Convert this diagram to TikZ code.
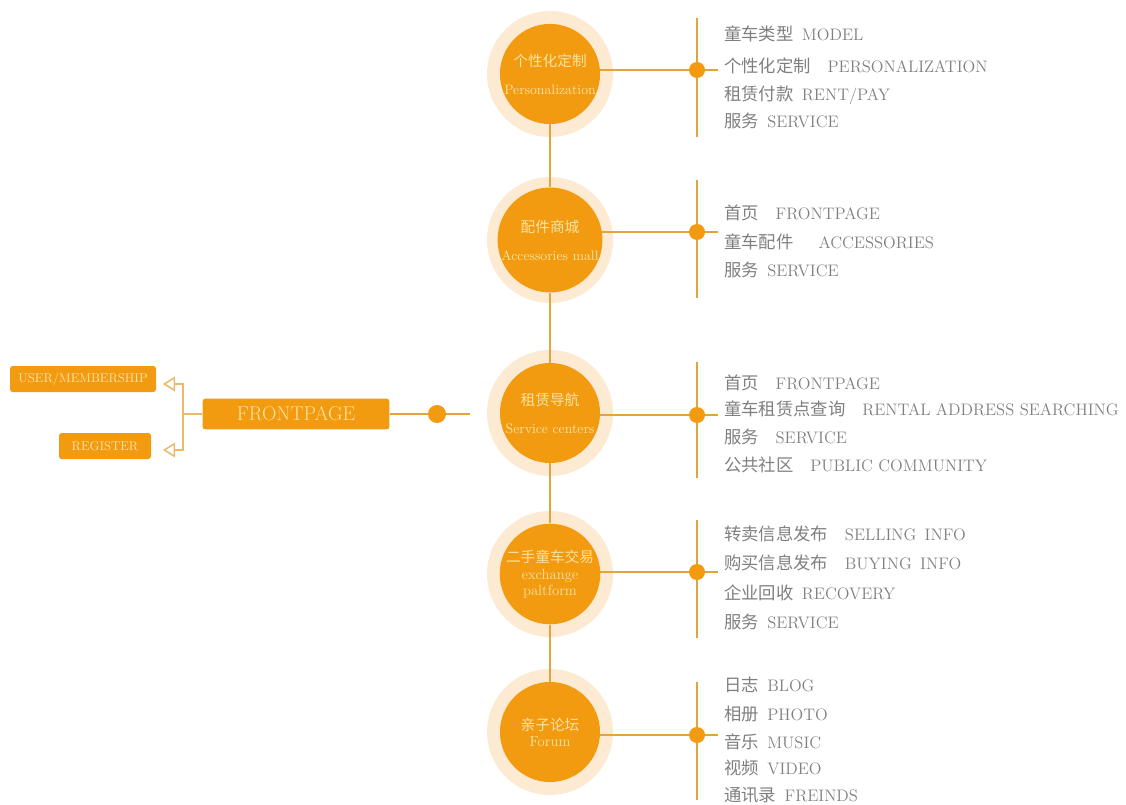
\documentclass[tikz,border=0pt]{standalone}
\usepackage{fontspec}
\newfontfamily\cjk{Noto Sans CJK SC}
\usepackage{tikz}
\usetikzlibrary{positioning, arrows.meta, backgrounds}

\definecolor{hubfill}{HTML}{F29A10}
\definecolor{halofill}{HTML}{FCEAD2}
\definecolor{wire}{HTML}{E2A43E}
\definecolor{hubtext}{HTML}{FCE3A2}
\definecolor{itemtext}{HTML}{7F7F7F}
\definecolor{forkline}{HTML}{EAB96C}

\newcommand\zh[1]{{\cjk\fontsize{13}{15}\selectfont #1}}
\newcommand\hz[1]{{\cjk\fontsize{11}{13}\selectfont #1}}

\begin{document}
\begin{tikzpicture}[
  x=0.75pt, y=-0.75pt,
  hub/.style={circle, fill=hubfill, minimum size=75pt, inner sep=0pt,
    align=center, text=hubtext, font=\fontsize{10.3}{12}\selectfont},
  knot/.style={circle, fill=hubfill, minimum size=12pt, inner sep=0pt},
  item/.style={anchor=west, inner sep=0pt, text=itemtext,
    font=\fontsize{12.5}{14}\selectfont},
  tab/.style={fill=hubfill, rounded corners=2pt, text=hubtext, inner sep=0pt},
  wireline/.style={draw=wire, line width=2.2pt},
  fork/.style={draw=forkline, line width=1.1pt},
  opentip/.style={-{Triangle[open, length=9pt, width=11pt]}},
]
\useasboundingbox (0,0) rectangle (1126,805);

% hubs on the spine
\node[hub] (pers)  at (550,74)  {\hz{个性化定制}\\[9pt]Personalization};
\node[hub] (acc)   at (550,240) {\hz{配件商城}\\[9pt]Accessories mall};
\node[hub] (nav)   at (550,413) {\hz{租赁导航}\\[9pt]Service centers};
\node[hub, font=\fontsize{11}{13}\selectfont] (trade) at (550,574)
  {\hz{二手童车交易}\\[0pt]exchange\\[-1pt]paltform};
\node[hub, font=\fontsize{11}{13}\selectfont] (forum) at (550,732)
  {\hz{亲子论坛}\\[-1pt]Forum};

% bars and knots on the right
\foreach \y/\top/\bot [count=\i] in {70/18/137, 232/180/298, 415/362/478,
                                     572/520/638, 735/682/800} {
  \coordinate (tip\i) at (718,\y);
  \coordinate (top\i) at (697,\top);
  \coordinate (bot\i) at (697,\bot);
  \node[knot] (knot\i) at (697,\y) {};
}

% items
\foreach \y/\t [count=\j] in {34/{\zh{童车类型}\enspace MODEL},
    66/{\zh{个性化定制}\quad PERSONALIZATION},
    95/{\zh{租赁付款}\enspace RENT/PAY},
    121/{\zh{服务}\enspace SERVICE}}
  \node[item] (persitem\j) at (724,\y) {\t};

\foreach \y/\t [count=\j] in {213/{\zh{首页}\quad FRONTPAGE},
    242/{\zh{童车配件}\quad\enspace ACCESSORIES},
    270/{\zh{服务}\enspace SERVICE}}
  \node[item] (accitem\j) at (724,\y) {\t};

\foreach \y/\t [count=\j] in {383/{\zh{首页}\quad FRONTPAGE},
    409/{\zh{童车租赁点查询}\quad RENTAL ADDRESS SEARCHING},
    437/{\zh{服务}\quad SERVICE},
    465/{\zh{公共社区}\quad PUBLIC COMMUNITY}}
  \node[item] (navitem\j) at (724,\y) {\t};

\foreach \y/\t [count=\j] in {534/{\zh{转卖信息发布}\quad SELLING\enspace INFO},
    563/{\zh{购买信息发布}\quad BUYING\enspace INFO},
    593/{\zh{企业回收}\enspace RECOVERY},
    622/{\zh{服务}\enspace SERVICE}}
  \node[item] (tradeitem\j) at (724,\y) {\t};

\foreach \y/\t [count=\j] in {685/{\zh{日志}\enspace BLOG},
    714/{\zh{相册}\enspace PHOTO},
    742/{\zh{音乐}\enspace MUSIC},
    768/{\zh{视频}\enspace VIDEO},
    795/{\zh{通讯录}\enspace FREINDS}}
  \node[item] (forumitem\j) at (724,\y) {\t};

% left side
\node[tab, minimum width=140pt, minimum height=23pt,
  font=\fontsize{15}{18}\selectfont] (front) at (296,414) {FRONTPAGE};
\node[tab, minimum width=109.5pt, minimum height=19.5pt,
  font=\fontsize{9.5}{11}\selectfont] (member) at (83,379) {USER/MEMBERSHIP};
\node[tab, minimum width=69pt, minimum height=19.5pt,
  font=\fontsize{9.5}{11}\selectfont] (register) at (105,446) {REGISTER};
\node[knot, minimum size=13.5pt] (frontknot) at (437,414) {};
\coordinate (navin) at (470,414);
\coordinate (fork) at (183,414);
\coordinate (membertip) at (163,384);
\coordinate (registertip) at (163,450);

\draw[fork, opentip] (front) -- (fork) |- (membertip);
\draw[fork, opentip] (fork) |- (registertip);

\begin{scope}[on background layer]
  \foreach \h in {pers, acc, nav, trade, forum}
    \fill[halofill] (\h.center) circle (47.25pt);
  \draw[wireline] (pers) -- (acc) -- (nav) -- (trade) -- (forum);
  \foreach \h [count=\i] in {pers, acc, nav, trade, forum} {
    \draw[wireline] (\h.center |- tip\i) -- (tip\i);
    \draw[wireline] (top\i) -- (bot\i);
  }
  \draw[wireline] (front) -- (navin);
\end{scope}
\end{tikzpicture}
\end{document}
